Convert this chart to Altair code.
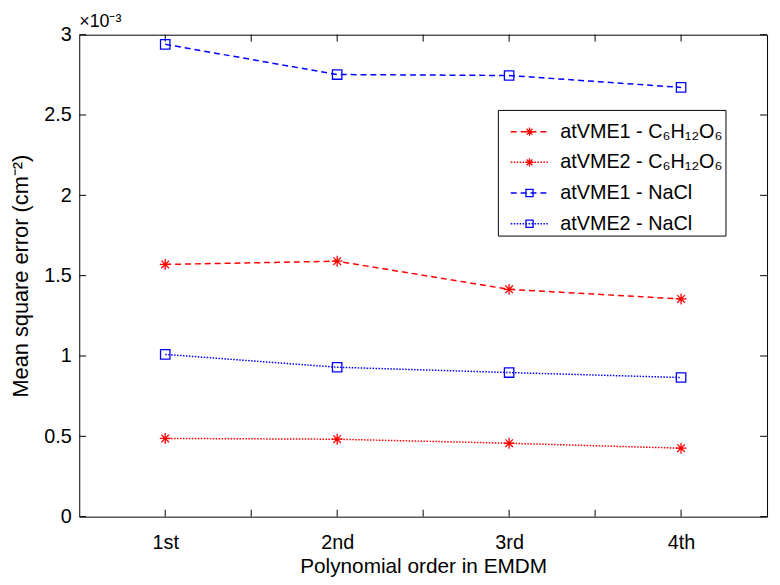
import altair as alt
import pandas as pd

# ---- data (values in units of 1e-3 cm^-2) ----
orders = [1, 2, 3, 4]
order_labels = ["1st", "2nd", "3rd", "4th"]
series_names = ["atVME1 - C₆H₁₂O₆", "atVME2 - C₆H₁₂O₆", "atVME1 - NaCl", "atVME2 - NaCl"]
vme1_glucose = [1.570, 1.590, 1.415, 1.355]
vme2_glucose = [0.487, 0.482, 0.457, 0.426]
vme1_nacl = [2.940, 2.752, 2.746, 2.672]
vme2_nacl = [1.010, 0.930, 0.897, 0.866]
y_ticks = [0, 0.5, 1, 1.5, 2, 2.5, 3]
x_ticks = [1, 1.5, 2, 2.5, 3, 3.5, 4]

colors = ["#FF0000", "#FF0000", "#0000FF", "#0000FF"]
dashes = [[6, 4], [1.5, 1.5], [6, 4], [1.5, 1.5]]
ASTER = "M-0.22,0L0.22,0M0,-0.22L0,0.22M-0.155,-0.155L0.155,0.155M-0.155,0.155L0.155,-0.155"
SQUARE = "M-0.19,-0.19H0.19V0.19H-0.19Z"
shapes = [ASTER, ASTER, SQUARE, SQUARE]

rows = []
for name, vals in zip(series_names, [vme1_glucose, vme2_glucose, vme1_nacl, vme2_nacl]):
    for o, v in zip(orders, vals):
        rows.append({"series": name, "order": o, "value": v})
df = pd.DataFrame(rows)

W, H = 695, 487
FONT = "Liberation Sans"
TL = 7
LBL = 20
TTL = 21
SYM = 1444  # legend symbol size (38 px long line)

label_expr = "[" + ",".join("'%s'" % s for s in order_labels) + "][datum.value - 1]"

x_scale = alt.Scale(domain=[0.5, 4.5], nice=False, zero=False)
y_scale = alt.Scale(domain=[0, 3], nice=False)
x_axis = alt.Axis(values=orders, labelExpr=label_expr, ticks=False, domain=False, grid=False,
                  labelFontSize=LBL, titleFontSize=TTL, labelPadding=16, titlePadding=3,
                  titleFontWeight="normal", labelFont=FONT, titleFont=FONT,
                  labelColor="black", titleColor="black")
y_axis = alt.Axis(values=y_ticks, format="~g", ticks=False, domain=False, grid=False,
                  labelFontSize=LBL, titleFontSize=22, labelPadding=8, titlePadding=11,
                  titleFontWeight="normal", labelFont=FONT, titleFont=FONT,
                  labelColor="black", titleColor="black")
X_TITLE = "Polynomial order in EMDM"
Y_TITLE = "Mean square error (cm⁻²)"

legend_common = dict(orient="none", legendX=423, legendY=76, title=None,
                     labelFontSize=LBL, labelFont=FONT, symbolSize=SYM, symbolOffset=10,
                     padding=2, rowPadding=1, labelOffset=11, labelLimit=400)

line_legend = alt.Legend(symbolType="stroke", symbolStrokeWidth=1.5, strokeColor="black",
                         labelColor="black", **legend_common)
point_legend = alt.Legend(labelOpacity=0, symbolStrokeWidth=1.3, **legend_common)

base = alt.Chart(df)
lines = base.mark_line(strokeWidth=1.5).encode(
    x=alt.X("order:Q", scale=x_scale, axis=x_axis, title=X_TITLE),
    y=alt.Y("value:Q", scale=y_scale, axis=y_axis, title=Y_TITLE),
    color=alt.Color("series:N", scale=alt.Scale(domain=series_names, range=colors), legend=line_legend),
    strokeDash=alt.StrokeDash("series:N", scale=alt.Scale(domain=series_names, range=dashes), legend=line_legend),
)
points = base.mark_point(filled=False, size=2500, strokeWidth=1.3, opacity=1).encode(
    x=alt.X("order:Q", scale=x_scale, axis=x_axis, title=X_TITLE),
    y=alt.Y("value:Q", scale=y_scale, axis=y_axis, title=Y_TITLE),
    color=alt.Color("series:N", scale=alt.Scale(domain=series_names, range=colors), legend=point_legend),
    shape=alt.Shape("series:N", scale=alt.Scale(domain=series_names, range=shapes), legend=point_legend),
)

ydf = pd.DataFrame({"v": y_ticks})
xdf = pd.DataFrame({"v": x_ticks})
yl = alt.Y("v:Q", scale=y_scale, axis=y_axis, title=Y_TITLE)
xl = alt.X("v:Q", scale=x_scale, axis=x_axis, title=X_TITLE)
tick_left = alt.Chart(ydf).mark_rule(color="black", strokeWidth=1).encode(y=yl, x=alt.value(0), x2=alt.value(TL))
tick_right = alt.Chart(ydf).mark_rule(color="black", strokeWidth=1).encode(y=yl, x=alt.value(W - TL), x2=alt.value(W))
tick_bottom = alt.Chart(xdf).mark_rule(color="black", strokeWidth=1).encode(x=xl, y=alt.value(H), y2=alt.value(H - TL))
tick_top = alt.Chart(xdf).mark_rule(color="black", strokeWidth=1).encode(x=xl, y=alt.value(0), y2=alt.value(TL))

chart = alt.layer(tick_left, tick_right, tick_bottom, tick_top, lines, points).resolve_scale(
    color="independent"
).resolve_legend(
    color="independent", shape="independent", strokeDash="independent"
).properties(
    width=W, height=H,
    title=alt.TitleParams("×10⁻³", anchor="start", frame="group", fontSize=18, fontWeight="normal",
                          font=FONT, color="black", offset=3, dy=9),
    autosize=alt.AutoSizeParams(type="none"),
    padding={"left": 72, "top": 24, "right": 5, "bottom": 58},
).configure_view(stroke="black", strokeWidth=1)

chart.save("out.html", embed_options={"renderer": "svg", "actions": False})
